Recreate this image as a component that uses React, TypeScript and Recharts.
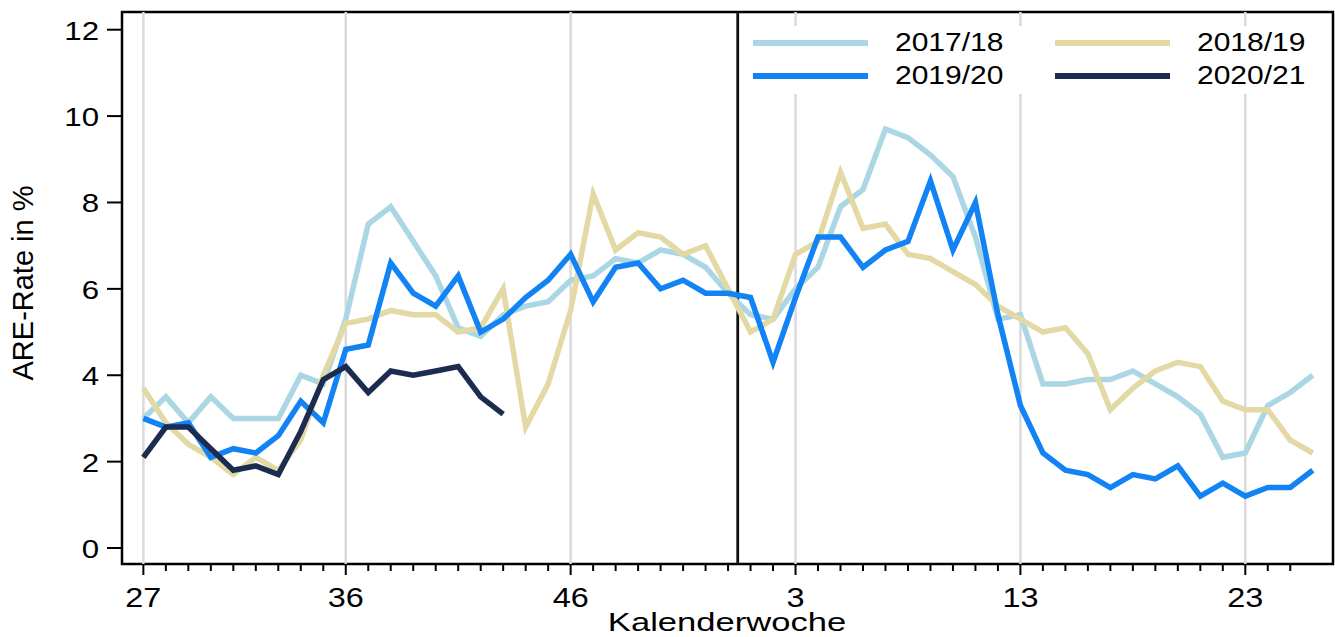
import React from 'react';
import {
  LineChart,
  Line,
  XAxis,
  YAxis,
  ReferenceLine,
  ReferenceArea,
  Legend,
} from 'recharts';

// Kalenderwochen 27..53, 1..26
const weeks = [
  27, 28, 29, 30, 31, 32, 33, 34, 35, 36, 37, 38, 39, 40, 41, 42, 43, 44, 45, 46,
  47, 48, 49, 50, 51, 52, 53, 1, 2, 3, 4, 5, 6, 7, 8, 9, 10, 11, 12, 13, 14, 15,
  16, 17, 18, 19, 20, 21, 22, 23, 24, 25, 26,
];
const majorWeeks = [27, 36, 46, 3, 13, 23];
const yTicks = [0, 2, 4, 6, 8, 10, 12];

const s1718 = [
  3.0, 3.5, 2.9, 3.5, 3.0, 3.0, 3.0, 4.0, 3.8, 5.3, 7.5, 7.9, 7.1, 6.3, 5.1, 4.9,
  5.4, 5.6, 5.7, 6.2, 6.3, 6.7, 6.6, 6.9, 6.8, 6.5, 5.9, 5.4, 5.3, 6.0, 6.5, 7.9,
  8.3, 9.7, 9.5, 9.1, 8.6, 7.2, 5.3, 5.4, 3.8, 3.8, 3.9, 3.9, 4.1, 3.8, 3.5, 3.1,
  2.1, 2.2, 3.3, 3.6, 4.0,
];
const s1819 = [
  3.7, 2.9, 2.4, 2.1, 1.7, 2.1, 1.8, 2.5, 4.0, 5.2, 5.3, 5.5, 5.4, 5.4, 5.0, 5.1,
  6.0, 2.8, 3.8, 5.5, 8.2, 6.9, 7.3, 7.2, 6.8, 7.0, 6.0, 5.0, 5.3, 6.8, 7.1, 8.7,
  7.4, 7.5, 6.8, 6.7, 6.4, 6.1, 5.6, 5.3, 5.0, 5.1, 4.5, 3.2, 3.7, 4.1, 4.3, 4.2,
  3.4, 3.2, 3.2, 2.5, 2.2,
];
const s1920 = [
  3.0, 2.8, 2.9, 2.1, 2.3, 2.2, 2.6, 3.4, 2.9, 4.6, 4.7, 6.6, 5.9, 5.6, 6.3, 5.0,
  5.3, 5.8, 6.2, 6.8, 5.7, 6.5, 6.6, 6.0, 6.2, 5.9, 5.9, 5.8, 4.3, 5.8, 7.2, 7.2,
  6.5, 6.9, 7.1, 8.5, 6.9, 8.0, 5.4, 3.3, 2.2, 1.8, 1.7, 1.4, 1.7, 1.6, 1.9, 1.2,
  1.5, 1.2, 1.4, 1.4, 1.8,
];
const s2021 = [
  2.1, 2.8, 2.8, 2.3, 1.8, 1.9, 1.7, 2.7, 3.9, 4.2, 3.6, 4.1, 4.0, 4.1, 4.2, 3.5,
  3.1,
];

const series = [
  { key: 's1718', name: '2017/18', color: '#abd6e3' },
  { key: 's1819', name: '2018/19', color: '#e3d9a4' },
  { key: 's1920', name: '2019/20', color: '#1283f5' },
  { key: 's2021', name: '2020/21', color: '#1c2b50' },
];

const data = weeks.map((w, i) => ({
  idx: i,
  week: w,
  s1718: s1718[i],
  s1819: s1819[i],
  s1920: s1920[i],
  s2021: i < s2021.length ? s2021[i] : null,
}));

const FONT = '"Liberation Sans", Arial, Helvetica, sans-serif';
const X_DOMAIN: [number, number] = [-0.95, 52.9];
const Y_DOMAIN: [number, number] = [-0.37, 12.41];
const xTicks = weeks.slice(0, 52).map((_, i) => i);
const gridIdx = majorWeeks.map((w) => weeks.indexOf(w));

function WeekTick(props: any) {
  const { x, y, payload } = props;
  const week = weeks[payload.value];
  const major = majorWeeks.includes(week);
  return (
    <g>
      <line x1={x} x2={x} y1={y} y2={y + (major ? 11 : 7)} stroke="#000" strokeWidth={2} />
      {major && (
        <text
          transform={`translate(${x},${y + 43}) scale(1.2,1)`}
          textAnchor="middle"
          fontSize={27}
          fontFamily={FONT}
          fill="#000"
        >
          {week}
        </text>
      )}
    </g>
  );
}

function RateTick(props: any) {
  const { x, y, payload } = props;
  return (
    <g>
      <line x1={x - 15} x2={x} y1={y} y2={y} stroke="#000" strokeWidth={2} />
      <text
        transform={`translate(${x - 23},${y + 10}) scale(1.2,1)`}
        textAnchor="end"
        fontSize={26}
        fontFamily={FONT}
        fill="#000"
      >
        {payload.value}
      </text>
    </g>
  );
}

function LegendBox() {
  const cols = [
    { lx: 13, tx: 155 },
    { lx: 315, tx: 457 },
  ];
  const rows = [17, 50];
  return (
    <svg width={590} height={68} style={{ display: 'block' }}>
      <rect x={0} y={0} width={590} height={68} fill="#fff" />
      {series.map((s, i) => {
        const c = cols[i % 2];
        const ry = rows[Math.floor(i / 2)];
        return (
          <g key={s.key}>
            <line x1={c.lx} x2={c.lx + 115} y1={ry} y2={ry} stroke={s.color} strokeWidth={6} />
            <text
              transform={`translate(${c.tx},${ry + 8}) scale(1.2,1)`}
              fontSize={25}
              fontFamily={FONT}
              fill="#000"
            >
              {s.name}
            </text>
          </g>
        );
      })}
    </svg>
  );
}

export default function App() {
  return (
    <div style={{ position: 'absolute', left: 0, top: 0, width: 1335, height: 637, background: '#fff' }}>
      <LineChart width={1335} height={637} data={data} margin={{ top: 12, right: 2, bottom: 0, left: 0 }}>
        <XAxis
          dataKey="idx"
          type="number"
          domain={X_DOMAIN}
          ticks={xTicks}
          allowDataOverflow
          interval={0}
          height={73}
          axisLine={false}
          tickLine={false}
          tickSize={0}
          tickMargin={0}
          tick={WeekTick}
          label={{
            content: () => (
              <text
                transform="translate(727,631) scale(1.33,1)"
                textAnchor="middle"
                fontSize={26}
                fontFamily={FONT}
                fill="#000"
              >
                Kalenderwoche
              </text>
            ),
          }}
        />
        <YAxis
          type="number"
          domain={Y_DOMAIN}
          ticks={yTicks}
          allowDataOverflow
          interval={0}
          width={122}
          axisLine={false}
          tickLine={false}
          tickSize={0}
          tickMargin={0}
          tick={RateTick}
          label={{
            content: () => (
              <text
                transform="translate(33,283) rotate(-90)"
                textAnchor="middle"
                fontSize={29}
                fontFamily={FONT}
                fill="#000"
              >
                ARE-Rate in %
              </text>
            ),
          }}
        />
        {gridIdx.map((gi) => (
          <ReferenceLine key={gi} x={gi} stroke="#dadada" strokeWidth={2.5} />
        ))}
        <ReferenceLine x={26.43} stroke="#111" strokeWidth={2.8} />
        {series.map((s) => (
          <Line
            key={s.key}
            type="linear"
            dataKey={s.key}
            name={s.name}
            stroke={s.color}
            strokeWidth={5.5}
            dot={false}
            activeDot={false}
            isAnimationActive={false}
          />
        ))}
        <ReferenceArea
          x1={X_DOMAIN[0]}
          x2={X_DOMAIN[1]}
          y1={Y_DOMAIN[0]}
          y2={Y_DOMAIN[1]}
          fill="none"
          stroke="#000"
          strokeWidth={2.5}
          ifOverflow="visible"
        />
        <Legend
          layout="horizontal"
          verticalAlign="middle"
          align="center"
          content={() => <LegendBox />}
          wrapperStyle={{ position: 'absolute', left: 740, top: 26, width: 590, height: 68 }}
        />
      </LineChart>
    </div>
  );
}
